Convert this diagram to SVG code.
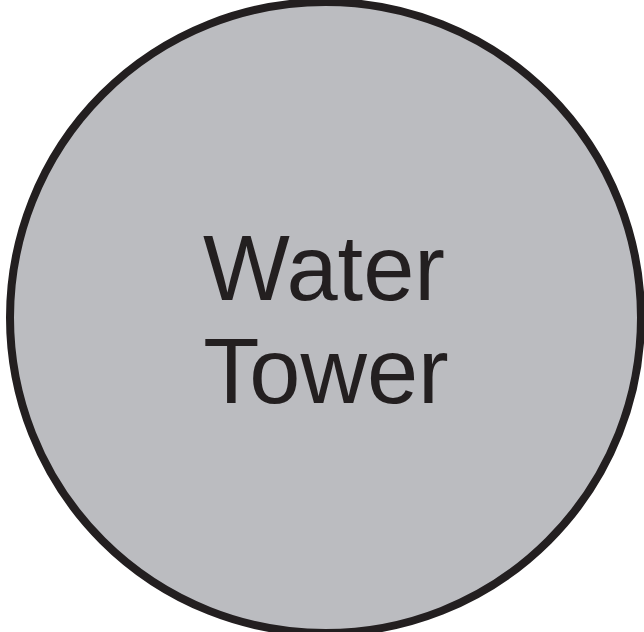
<svg xmlns="http://www.w3.org/2000/svg" width="644" height="632" viewBox="0 0 644 632">
<style>
.node{fill:#bbbcc0;stroke:#231f20;stroke-width:8}
.lbl{font-family:"Liberation Sans",Arial,sans-serif;font-size:92px;fill:#231f20;text-anchor:middle}
</style>
<rect width="644" height="632" fill="#ffffff"/>
<g id="water-tower">
<circle class="node" cx="325.5" cy="317.5" r="315.5"/>
<text class="lbl" x="324" y="300">Water</text>
<text class="lbl" x="326" y="403">Tower</text>
</g>
<g id="connectors"></g>
</svg>
